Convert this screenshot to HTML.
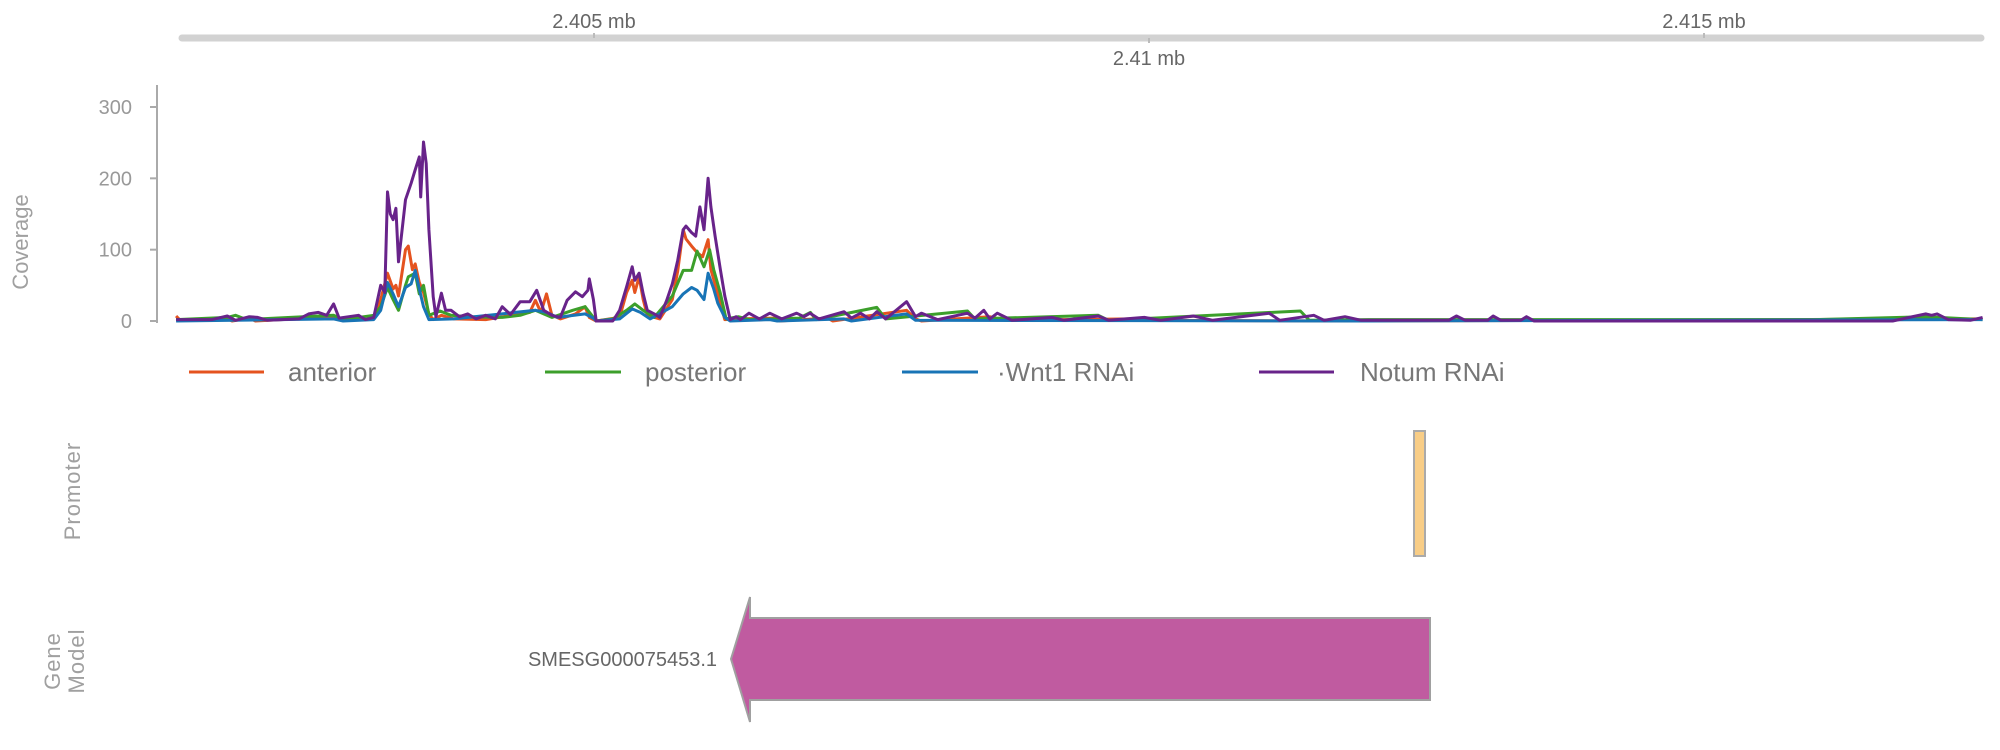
<!DOCTYPE html>
<html><head><meta charset="utf-8"><style>
html,body{margin:0;padding:0;background:#fff;}
svg{display:block;font-family:"Liberation Sans",sans-serif;}
</style></head><body>
<svg id="chart" width="2000" height="750" viewBox="0 0 2000 750">
<g id="ruler">
  <line x1="182" y1="38" x2="1981" y2="38" stroke="#d2d2d2" stroke-width="7" stroke-linecap="round"/>
</g>
<g id="yaxis"></g>
<text x="28" y="242" transform="rotate(-90 28 242)" text-anchor="middle" font-size="22" fill="#a0a0a0">Coverage</text>
<g id="lines"></g>
<g id="legend">
  <g><line x1="189" y1="372" x2="264" y2="372" stroke="#e5531f" stroke-width="3"/><text x="288" y="381" font-size="26" fill="#777">anterior</text></g>
  <g><line x1="545" y1="372" x2="621" y2="372" stroke="#3c9f2b" stroke-width="3"/><text x="645" y="381" font-size="26" fill="#777">posterior</text></g>
  <g><line x1="902" y1="372" x2="978" y2="372" stroke="#1874b6" stroke-width="3"/><text x="997" y="381" font-size="26" fill="#777">·Wnt1 RNAi</text></g>
  <g><line x1="1259" y1="372" x2="1334" y2="372" stroke="#68238a" stroke-width="3"/><text x="1360" y="381" font-size="26" fill="#777">Notum RNAi</text></g>
</g>
<text x="80" y="491" transform="rotate(-90 80 491)" text-anchor="middle" font-size="22" fill="#a0a0a0" letter-spacing="1">Promoter</text>
<rect x="1414" y="431" width="11" height="125" fill="#f8cd86" stroke="#aaa" stroke-width="2"/>
<text transform="rotate(-90 64 661)" x="64" y="661" text-anchor="middle" font-size="22" fill="#a0a0a0" letter-spacing="1"><tspan x="64" dy="-4">Gene</tspan><tspan x="64" dy="24">Model</tspan></text>
<polygon points="1430,618 1430,700 750,700 750,722 731,659 750,597 750,618" fill="#c05ba0" stroke="#a0a0a0" stroke-width="2"/>
<text x="717" y="666" text-anchor="end" font-size="20" fill="#666">SMESG000075453.1</text>
</svg>
<script>
const rulerTicks = [2405, 2410, 2415];
const rulerLabels = ["2.405 mb", "2.41 mb", "2.415 mb"];
const yTicks = [0, 100, 200, 300];
const seriesNames = ["anterior", "posterior", "Wnt1 RNAi", "Notum RNAi"];
const posAnterior = [2401.235,2401.272,2401.696,2401.74,2401.895,2401.95,2402.654,2402.741,2403.015,2403.078,2403.140,2403.190,2403.215,2403.239,2403.302,2403.327,2403.364,2403.389,2403.426,2403.464,2403.513,2403.551,2403.625,2403.737,2404.024,2404.335,2404.422,2404.472,2404.522,2404.572,2404.621,2404.696,2404.833,2404.920,2404.958,2405.020,2405.231,2405.294,2405.344,2405.368,2405.406,2405.443,2405.480,2405.593,2405.705,2405.754,2405.804,2405.829,2405.879,2405.929,2405.978,2406.028,2406.053,2406.115,2406.178,2406.30,2406.624,2406.67,2407.106,2407.15,2407.816,2407.896,2407.95,2408.566,2408.700,2409.838,2409.972,2411.913,2417.51];
const valAnterior = [7,1,3,0,4,0,6,1,3,30,67,45,50,35,100,105,72,80,54,40,10,2,8,3,2,10,12,29,12,38,8,3,10,20,5,0,5,40,57,40,62,30,8,3,30,70,128,115,105,96,90,114,72,38,2,3,4,0,4,0,15,3,0,6,1,3,1,0,3];
const posPosterior = [2401.235,2401.696,2401.770,2401.870,2401.994,2402.654,2402.741,2403.015,2403.078,2403.140,2403.190,2403.239,2403.302,2403.327,2403.389,2403.426,2403.464,2403.513,2403.613,2403.713,2403.862,2404.173,2404.335,2404.472,2404.547,2404.621,2404.808,2404.920,2404.995,2405.020,2405.169,2405.294,2405.368,2405.443,2405.543,2405.705,2405.804,2405.879,2405.929,2405.991,2406.041,2406.078,2406.140,2406.190,2406.30,2406.40,2406.85,2406.95,2407.00,2407.548,2407.628,2408.365,2408.432,2409.543,2409.637,2411.364,2411.444,2411.98,2416.0,2417.0,2417.51];
const valPosterior = [2,5,8,2,3,8,2,8,20,47,30,15,50,62,67,38,50,8,14,8,6,5,8,15,10,5,15,20,5,0,3,15,24,15,5,35,71,71,98,76,100,72,38,3,6,2,4,12,2,19,3,14,3,8,1,14,1,2,2,6,2];
const posWnt1 = [2401.235,2402.654,2402.74,2403.015,2403.078,2403.140,2403.190,2403.239,2403.302,2403.352,2403.389,2403.426,2403.464,2403.513,2403.737,2404.472,2404.572,2404.671,2404.920,2404.995,2405.020,2405.231,2405.344,2405.418,2405.505,2405.705,2405.804,2405.879,2405.929,2405.991,2406.028,2406.078,2406.115,2406.178,2406.227,2406.584,2406.65,2407.253,2407.32,2407.816,2407.896,2411.98,2417.51];
const valWnt1 = [0,3,0,2,15,54,38,20,47,52,71,45,20,2,3,15,12,5,10,4,0,3,17,12,3,20,38,47,43,30,67,45,25,5,0,2,0,3,0,10,1,0,2];
const posNotum = [2401.235,2401.559,2401.696,2401.770,2401.895,2401.970,2402.057,2402.343,2402.430,2402.517,2402.592,2402.654,2402.704,2402.878,2402.941,2403.015,2403.078,2403.115,2403.140,2403.165,2403.190,2403.215,2403.239,2403.302,2403.352,2403.389,2403.426,2403.439,2403.464,2403.488,2403.513,2403.551,2403.576,2403.625,2403.663,2403.713,2403.787,2403.862,2403.937,2404.024,2404.111,2404.173,2404.248,2404.335,2404.422,2404.484,2404.547,2404.621,2404.696,2404.758,2404.833,2404.895,2404.945,2404.958,2404.995,2405.020,2405.169,2405.231,2405.294,2405.344,2405.368,2405.406,2405.443,2405.480,2405.543,2405.593,2405.655,2405.705,2405.754,2405.804,2405.829,2405.879,2405.916,2405.954,2405.991,2406.028,2406.053,2406.091,2406.140,2406.178,2406.227,2406.28,2406.32,2406.396,2406.490,2406.584,2406.691,2406.825,2406.892,2406.945,2407.026,2407.253,2407.320,2407.401,2407.481,2407.548,2407.628,2407.816,2407.896,2407.950,2408.097,2408.365,2408.432,2408.512,2408.566,2408.633,2408.766,2409.128,2409.235,2409.543,2409.637,2409.958,2410.105,2410.400,2410.574,2411.083,2411.177,2411.485,2411.578,2411.766,2411.913,2412.70,2412.77,2412.85,2413.05,2413.10,2413.17,2413.35,2413.40,2413.47,2416.70,2416.85,2417.00,2417.05,2417.10,2417.20,2417.40,2417.51];
const valNotum = [2,2,7,1,6,5,1,3,10,12,8,24,4,8,2,5,50,40,181,150,142,158,83,170,193,212,230,174,251,221,128,34,6,39,15,15,6,10,3,8,3,20,9,27,27,43,15,8,5,29,41,34,43,59,30,0,0,15,48,76,57,67,38,15,10,5,29,52,85,128,133,124,119,160,128,200,160,119,71,35,2,6,2,11,3,11,3,11,6,11,3,13,4,11,3,13,3,27,6,11,2,11,4,15,3,11,1,5,1,7,1,5,1,7,1,11,1,8,1,6,1,1,7,1,1,7,1,1,6,0,0,5,10,8,10,2,1,5];

const NS = "http://www.w3.org/2000/svg";
const xScale = kb => 594 + (kb - 2405) * 111;
const yScale = v => 321 - v * 0.7133;

const ruler = document.getElementById('ruler');
rulerTicks.forEach((t, i) => {
  const x = xScale(t);
  const tk = document.createElementNS(NS, 'line');
  tk.setAttribute('x1', x); tk.setAttribute('x2', x);
  tk.setAttribute('y1', i === 1 ? 38 : 33); tk.setAttribute('y2', i === 1 ? 43 : 38);
  tk.setAttribute('stroke', '#bbb'); tk.setAttribute('stroke-width', 2);
  
  
  ruler.appendChild(tk);
  const tx = document.createElementNS(NS, 'text');
  tx.setAttribute('x', x); tx.setAttribute('y', i === 1 ? 65 : 28);
  tx.setAttribute('text-anchor', 'middle'); tx.setAttribute('font-size', '20'); tx.setAttribute('fill', '#666');
  tx.textContent = rulerLabels[i];
  
  
  ruler.appendChild(tx);
});

const yaxis = document.getElementById('yaxis');
const ax = document.createElementNS(NS, 'line');
ax.setAttribute('x1', 157); ax.setAttribute('x2', 157); ax.setAttribute('y1', 85); ax.setAttribute('y2', 323);
ax.setAttribute('stroke', '#aaa'); ax.setAttribute('stroke-width', 2);


yaxis.appendChild(ax);
yTicks.forEach(t => {
  const y = yScale(t);
  const l = document.createElementNS(NS, 'line');
  l.setAttribute('x1', 150); l.setAttribute('x2', 157); l.setAttribute('y1', y); l.setAttribute('y2', y);
  l.setAttribute('stroke', '#aaa'); l.setAttribute('stroke-width', 2);
  
  
  yaxis.appendChild(l);
  const tx = document.createElementNS(NS, 'text');
  tx.setAttribute('x', 132); tx.setAttribute('y', y + 7);
  tx.setAttribute('text-anchor', 'end'); tx.setAttribute('font-size', '20'); tx.setAttribute('fill', '#999');
  tx.textContent = t;
  
  
  yaxis.appendChild(tx);
});

const lines = document.getElementById('lines');
const series = [
  [posAnterior, valAnterior, '#e5531f', 'line-anterior'],
  [posPosterior, valPosterior, '#3c9f2b', 'line-posterior'],
  [posWnt1, valWnt1, '#1874b6', 'line-wnt1-rnai'],
  [posNotum, valNotum, '#68238a', 'line-notum-rnai']
];
series.forEach(s => {
  const d = s[0].map((p, i) => (i ? 'L' : 'M') + xScale(p).toFixed(1) + ',' + yScale(s[1][i]).toFixed(1)).join('');
  const path = document.createElementNS(NS, 'path');
  path.setAttribute('d', d);
  path.setAttribute('fill', 'none'); path.setAttribute('stroke', s[2]);
  path.setAttribute('stroke-width', 3); path.setAttribute('stroke-linejoin', 'round');
  
  
  lines.appendChild(path);
});
</script>
</body></html>
